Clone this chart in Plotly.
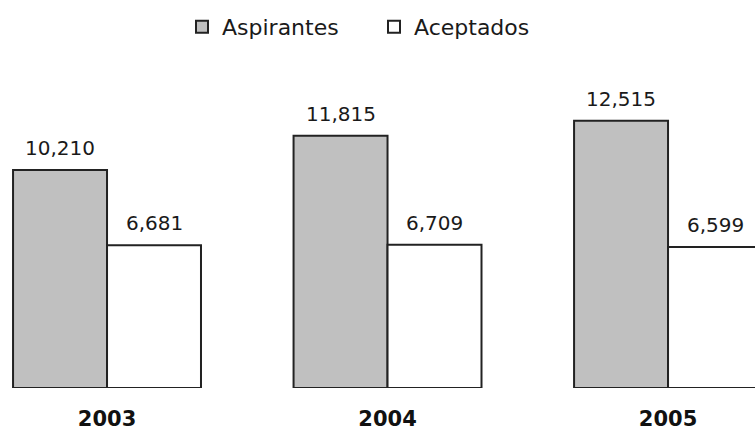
import plotly.graph_objects as go

years = ["2003", "2004", "2005"]
aspirantes = [10210, 11815, 12515]
aceptados = [6681, 6709, 6599]
series_names = ["Aspirantes", "Aceptados"]

FONT = "DejaVu Sans"
fig = go.Figure()
fig.add_trace(go.Bar(
    name=series_names[0], x=years, y=aspirantes,
    marker=dict(color="#c0c0c0", line=dict(color="#222222", width=2)),
))
fig.add_trace(go.Bar(
    name=series_names[1], x=years, y=aceptados,
    marker=dict(color="#ffffff", line=dict(color="#222222", width=2)),
))

for vals, shift in ((aspirantes, -47), (aceptados, 47)):
    for i, v in enumerate(vals):
        fig.add_annotation(
            x=i, y=v, xref="x", yref="y", text=f"{v:,}", showarrow=False,
            xshift=shift, yshift=22,
            font=dict(family=FONT, size=20, color="#1a1a1a"),
        )

fig.update_layout(
    width=755, height=432,
    margin=dict(l=0, r=0, t=60, b=44, autoexpand=False),
    paper_bgcolor="white", plot_bgcolor="white",
    barmode="group", bargap=0.33, bargroupgap=0,
    showlegend=True,
    legend=dict(
        orientation="h", x=182 / 755, xanchor="left", y=(388 - 27) / 328, yanchor="middle",
        font=dict(family=FONT, size=22, color="#1a1a1a"),
        itemwidth=30, entrywidth=147, bgcolor="rgba(0,0,0,0)",
    ),
    xaxis=dict(
        type="category", range=[-0.3815, 2.310], showgrid=False, showline=False,
        zeroline=False, ticks="outside", ticklen=12, tickcolor="rgba(0,0,0,0)",
        tickfont=dict(family=FONT, size=21, color="#111111", weight="bold"),
        automargin=False,
    ),
    yaxis=dict(range=[0, 15361], visible=False, showgrid=False, zeroline=False),
)

fig.write_html(
    "out.html",
    config={"displayModeBar": False},
    post_script="document.body.style.margin='0';document.body.style.overflow='hidden';",
)
